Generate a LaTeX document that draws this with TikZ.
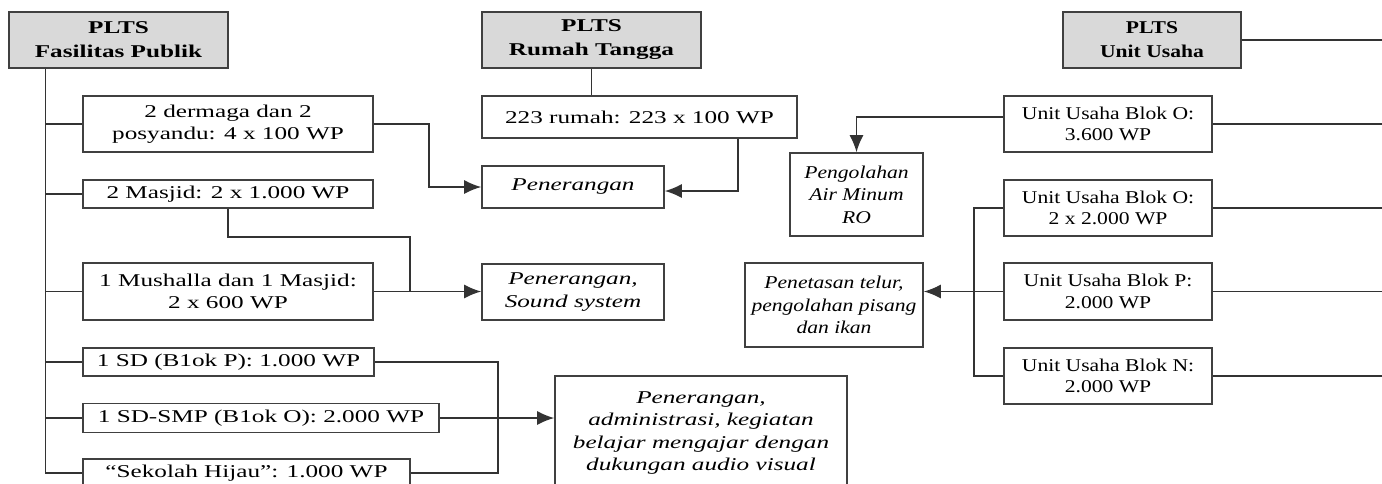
\documentclass[tikz,border=0pt]{standalone}
\usepackage{fontspec}
\setmainfont[FakeStretch=1.4]{Liberation Serif}
\newfontfamily\narrowfont[FakeStretch=1.2]{Liberation Serif}
\usetikzlibrary{arrows.meta}

\tikzstyle{box}=[rectangle,draw=black!75,line width=1.6pt,inner sep=1pt,align=center,font=\fontsize{18}{21.5}\selectfont]
\tikzstyle{head}=[fill=black!15,font=\fontsize{18}{24}\selectfont\bfseries]
\tikzstyle{use}=[font=\fontsize{18}{22.5}\selectfont\itshape]
\tikzstyle{narrow}=[execute at begin node=\narrowfont]
\tikzstyle{lineStyle}=[black!80,line width=1.5pt]
\tikzstyle{arr}=[lineStyle,-{Latex[length=17pt,width=14pt]}]

\begin{document}
\begin{tikzpicture}[x=1pt, y=-1pt]
	\useasboundingbox (0,0) rectangle (1382,483);

	% Fasilitas Publik
	\node(fasil) at (118.5,40) [box, head, minimum width=219, minimum height=56] {PLTS\\Fasilitas Publik};
	\node(dermaga) at (228,124) [box, minimum width=290, minimum height=56] {2 dermaga dan 2\\posyandu: 4 x 100 WP};
	\node(masjid) at (228,194) [box, minimum width=290, minimum height=28] {2 Masjid: 2 x 1.000 WP};
	\node(mushalla) at (228,291.5) [box, minimum width=290, minimum height=57] {1 Mushalla dan 1 Masjid:\\2 x 600 WP};
	\node(sdp) at (228.5,362) [box, minimum width=291, minimum height=28] {1 SD (B1ok P): 1.000 WP};
	\node(sdsmp) at (261,418) [box, minimum width=356, minimum height=29] {1 SD-SMP (B1ok O): 2.000 WP};
	\node(hijau) at (246.5,473) [box, minimum width=327, minimum height=28] {``Sekolah Hijau'': 1.000 WP};

	% Rumah Tangga
	\node(rumah) at (591.5,40) [box, head, minimum width=219, minimum height=56] {PLTS\\Rumah Tangga};
	\node(rumah223) at (639.5,117) [box, minimum width=315, minimum height=42] {223 rumah: 223 x 100 WP};
	\node(penA) at (573,187) [box, use, minimum width=182, minimum height=42] {Penerangan};
	\node(sound) at (573,292) [box, use, minimum width=182, minimum height=56] {Penerangan,\\Sound system};
	\node(admin) at (701,433) [box, use, minimum width=292, minimum height=114] {Penerangan,\\administrasi, kegiatan\\belajar mengajar dengan\\dukungan audio visual};

	% Unit Usaha
	\node(usaha) at (1152,40) [box, head, narrow, minimum width=178, minimum height=56] {PLTS\\Unit Usaha};
	\node(usahaO1) at (1108,124) [box, narrow, minimum width=208, minimum height=56] {Unit Usaha Blok O:\\3.600 WP};
	\node(usahaO2) at (1108,208) [box, narrow, minimum width=208, minimum height=56] {Unit Usaha Blok O:\\2 x 2.000 WP};
	\node(usahaP) at (1108,291.5) [box, narrow, minimum width=208, minimum height=57] {Unit Usaha Blok P:\\2.000 WP};
	\node(usahaN) at (1108,376) [box, narrow, minimum width=208, minimum height=56] {Unit Usaha Blok N:\\2.000 WP};
	\node(airminum) at (856.5,194.5) [box, use, narrow, minimum width=133, minimum height=83] {Pengolahan\\Air Minum\\RO};
	\node(penetasan) at (834,305) [box, use, narrow, minimum width=178, minimum height=84] {Penetasan telur,\\pengolahan pisang\\dan ikan};

	\coordinate(trunkF) at ([xshift=37.5pt]fasil.south west);
	\coordinate(busR) at (1400,0);

	% linke Seite
	\foreach \n in {dermaga,masjid,mushalla,sdp,sdsmp}
		\draw[lineStyle] (trunkF |- \n.west) -- (\n.west);
	\draw[lineStyle] (trunkF) |- (hijau.west);
	\draw[arr] (dermaga.east) -- ++(55,0) |- (penA.west);
	\draw[lineStyle] (masjid.south) |- ++(182,28) |- (mushalla.east);
	\draw[arr] (mushalla.east) -- (mushalla.east -| sound.west);
	\draw[lineStyle] (sdp.east) -- ++(123,0) |- (hijau.east);
	\draw[arr] (sdsmp.east) -- (sdsmp.east -| admin.west);

	% Mitte
	\draw[lineStyle] (rumah.south) -- (rumah.south |- rumah223.north);
	\draw[arr] ([xshift=98.5pt]rumah223.south) |- ([yshift=-4pt]penA.east);

	% rechte Seite
	\foreach \n in {usaha,usahaO1,usahaO2,usahaP,usahaN}
		\draw[lineStyle] (\n.east) -- (\n.east -| busR);
	\draw[arr] ([yshift=7pt]usahaO1.west) -| (airminum.north);
	\draw[lineStyle] (usahaO2.west) -- ++(-29,0) |- (usahaN.west);
	\draw[arr] (usahaP.west) -- (usahaP.west -| penetasan.east);

\end{tikzpicture}
\end{document}
